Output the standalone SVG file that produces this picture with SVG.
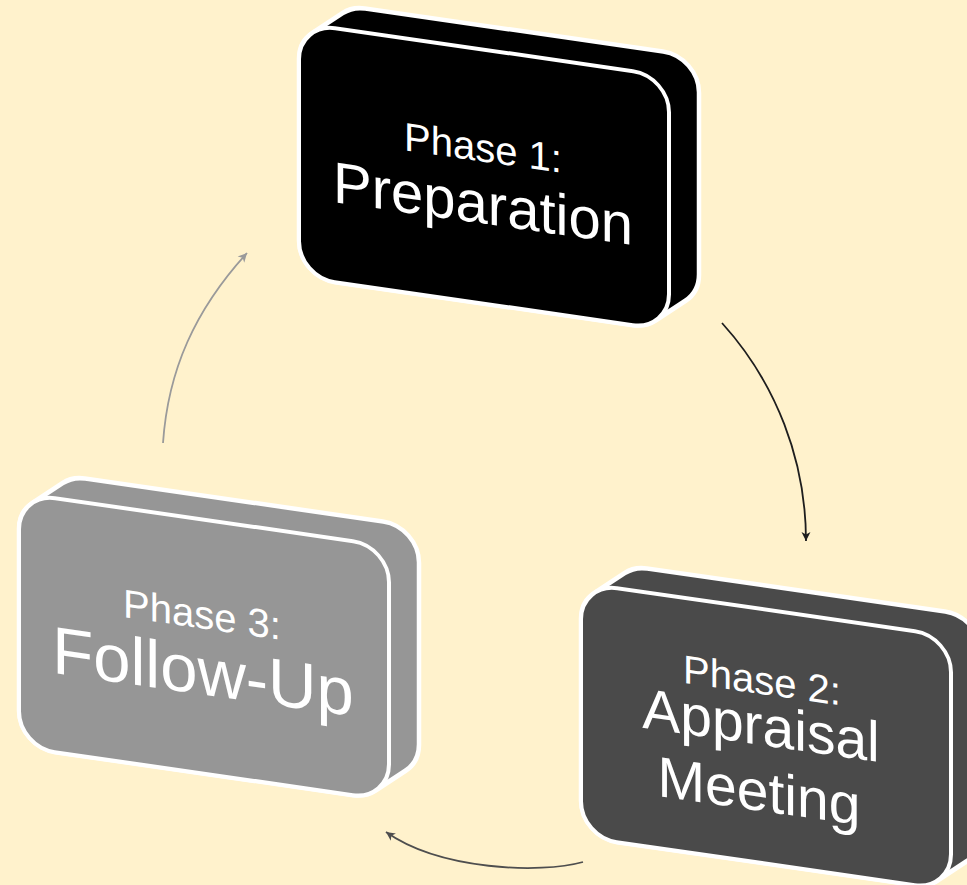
<svg xmlns="http://www.w3.org/2000/svg" width="967" height="885" viewBox="0 0 967 885">
  <style>
    .face { stroke: #ffffff; stroke-width: 4; }
    .silh { stroke: #ffffff; stroke-width: 4.5; stroke-linejoin: round; }
    .t { font-family: "Liberation Sans", Arial, sans-serif; fill: #ffffff; text-anchor: middle; }
    .small { font-size: 40px; }
    .conn { fill: none; stroke-width: 1.8; }
  </style>
  <defs>
    <path id="silhouette" d="M13.51,7.89 L43.51,-16.11 A36,36 0 0 1 66,-24 L364,-24 A36,36 0 0 1 400,12 L400,194 A36,36 0 0 1 386.49,222.11 L356.49,246.11 A36,36 0 0 1 334,254 L36,254 A36,36 0 0 1 0,218 L0,36 A36,36 0 0 1 13.51,7.89 Z"/>
    <rect id="front" x="0" y="0" width="370" height="254" rx="36" ry="36"/>
    <marker id="ah1" markerUnits="userSpaceOnUse" markerWidth="12" markerHeight="12" refX="9" refY="5" orient="auto" viewBox="0 0 12 10">
      <path d="M0,0.5 L9,5 L0,9.5 L2.5,5 Z" fill="#1e1e1e"/>
    </marker>
    <marker id="ah2" markerUnits="userSpaceOnUse" markerWidth="12" markerHeight="12" refX="9" refY="5" orient="auto" viewBox="0 0 12 10">
      <path d="M0,0.5 L9,5 L0,9.5 L2.5,5 Z" fill="#4e4e4e"/>
    </marker>
    <marker id="ah3" markerUnits="userSpaceOnUse" markerWidth="12" markerHeight="12" refX="9" refY="5" orient="auto" viewBox="0 0 12 10">
      <path d="M0,0.5 L9,5 L0,9.5 L2.5,5 Z" fill="#9a9a9a"/>
    </marker>
  </defs>
  <rect x="0" y="0" width="967" height="885" fill="#FFF2CC"/>

  <g id="connectors">
    <path class="conn" stroke="#1e1e1e" marker-end="url(#ah1)" d="M722,323 A325,325 0 0 1 806,541"/>
    <path class="conn" stroke="#4e4e4e" marker-end="url(#ah2)" d="M583,862 C540,874 440,870 386,832"/>
    <path class="conn" stroke="#9a9a9a" marker-end="url(#ah3)" d="M163,443 C168,370 195,310 247,253"/>
  </g>

  <g id="node-preparation" transform="translate(299,23) skewY(8.2)">
    <use href="#silhouette" class="silh" fill="#000000"/>
    <use href="#front" class="face" fill="#000000"/>
    <text class="t small" x="184" y="112">Phase 1:</text>
    <text class="t" x="184" y="174" font-size="58">Preparation</text>
  </g>

  <g id="node-appraisal" transform="translate(581,583) skewY(8.2)">
    <use href="#silhouette" class="silh" fill="#4a4a4a"/>
    <use href="#front" class="face" fill="#4a4a4a"/>
    <text class="t small" x="181" y="85">Phase 2:</text>
    <text class="t" x="180" y="136" font-size="57">Appraisal</text>
    <text class="t" x="178" y="202" font-size="57">Meeting</text>
  </g>

  <g id="node-followup" transform="translate(19,493) skewY(8.2)">
    <use href="#silhouette" class="silh" fill="#969696"/>
    <use href="#front" class="face" fill="#969696"/>
    <text class="t small" x="183" y="109">Phase 3:</text>
    <text class="t" x="184" y="175" font-size="67">Follow-Up</text>
  </g>
</svg>
